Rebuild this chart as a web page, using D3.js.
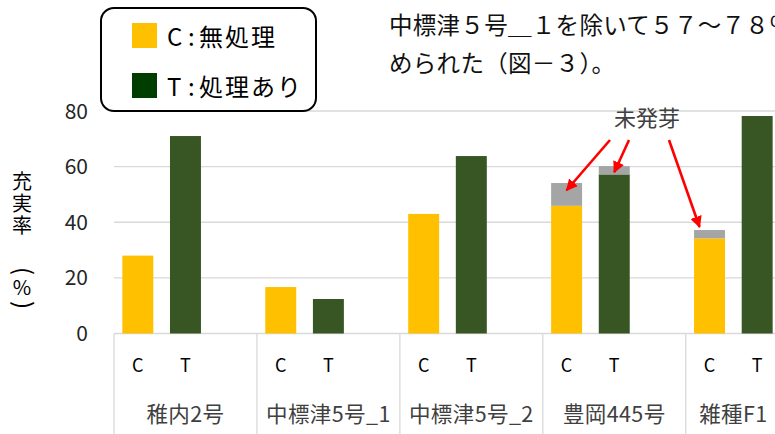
<!DOCTYPE html>
<html>
<head>
<meta charset="utf-8">
<script src="https://cdn.jsdelivr.net/npm/d3@7"></script>
<style>
	body { margin: 0; background: #fff; }
	svg { display: block; font-family: "Noto Sans CJK JP", "Noto Sans", sans-serif; }
</style>
</head>
<body>
<svg id="chart" width="775" height="434"></svg>
<script>

var categories = ["稚内2号", "中標津5号_1", "中標津5号_2", "豊岡445号", "雑種F1"];
var seriesNames = ["C", "T"];
var valuesC = [28, 16.7, 43, 45.9, 34.2];
var valuesT = [71, 12.4, 63.8, 57.2, 78.2];
var notSproutedC = [0, 0, 0, 8.2, 3];
var notSproutedT = [0, 0, 0, 3, 0];
var yTicks = [0, 20, 40, 60, 80];

var colorC = "#FFC000";
var colorT = "#375623";
var colorGray = "#A5A5A5";

var svg = d3.select("#chart");

// flat slot list: C, T and an empty spacer after every group but the last
var slotKeys = [];
categories.forEach(function(c, i) {
	slotKeys.push(c + "|C", c + "|T");
	if (i < categories.length - 1) slotKeys.push(c + "|-");
});

var x = d3.scaleBand()
	.domain(slotKeys)
	.range([114, 781])
	.paddingInner(0.35)
	.paddingOuter(0.175);

var step = x.step();
var groupStart = function(c) { return x(c + "|C") - step * 0.175; };
var groupWidth = function(i) { return step * (i < categories.length - 1 ? 3 : 2); };

var y = d3.scaleLinear()
	.domain([0, 80])
	.range([333.5, 111]);

// grid lines
svg.append("g")
	.attr("class", "grid")
	.selectAll("line")
	.data(yTicks)
	.enter()
	.append("line")
	.attr("x1", 114)
	.attr("x2", 775)
	.attr("y1", function(d) { return y(d); })
	.attr("y2", function(d) { return y(d); })
	.attr("stroke", "#d9d9d9")
	.attr("stroke-width", 1.3);

// category dividers below the axis
svg.append("g")
	.selectAll("line")
	.data(categories)
	.enter()
	.append("line")
	.attr("x1", function(d) { return groupStart(d); })
	.attr("x2", function(d) { return groupStart(d); })
	.attr("y1", y(0))
	.attr("y2", 434)
	.attr("stroke", "#d9d9d9")
	.attr("stroke-width", 1.3);

// y tick labels
svg.append("g")
	.selectAll("text")
	.data(yTicks)
	.enter()
	.append("text")
	.text(function(d) { return d; })
	.attr("x", 88)
	.attr("y", function(d) { return y(d); })
	.attr("dy", "0.36em")
	.attr("text-anchor", "end")
	.attr("font-size", 21)
	.attr("fill", "#262626");

// bars
var rows = categories.map(function(c, i) {
	return { cat: c, C: valuesC[i], T: valuesT[i], gC: notSproutedC[i], gT: notSproutedT[i] };
});

var bars = svg.append("g").attr("class", "bars");

rows.forEach(function(r) {
	[["C", r.C, r.gC, colorC], ["T", r.T, r.gT, colorT]].forEach(function(s) {
		var bx = x(r.cat + "|" + s[0]);
		bars.append("rect")
			.attr("x", bx)
			.attr("y", y(s[1]))
			.attr("width", x.bandwidth())
			.attr("height", y(0) - y(s[1]))
			.attr("fill", s[3]);
		if (s[2] > 0) {
			bars.append("rect")
				.attr("x", bx)
				.attr("y", y(s[1] + s[2]))
				.attr("width", x.bandwidth())
				.attr("height", y(s[1]) - y(s[1] + s[2]))
				.attr("fill", colorGray);
		}
	});
});

// C / T sub labels
rows.forEach(function(r) {
	seriesNames.forEach(function(s) {
		svg.append("text")
			.text(s)
			.attr("x", x(r.cat + "|" + s) + x.bandwidth() / 2)
			.attr("y", 366)
			.attr("dy", "0.36em")
			.attr("text-anchor", "middle")
			.attr("font-size", 18)
			.attr("fill", "#000");
	});
});

// category labels
svg.append("g")
	.selectAll("text")
	.data(categories)
	.enter()
	.append("text")
	.text(function(d) { return d; })
	.attr("x", function(d, i) { return groupStart(d) + groupWidth(i) / 2; })
	.attr("y", 414)
	.attr("dy", "0.36em")
	.attr("text-anchor", "middle")
	.attr("font-size", 21.5)
	.attr("letter-spacing", 0.4)
	.attr("fill", "#404040");

// y axis title, stacked vertically (parens turned sideways)
var titleChars = [["充", 182, 0], ["実", 204, 0], ["率", 226, 0], ["(", 271, 90], ["%", 288, 0], [")", 305, 90]];
svg.append("g")
	.selectAll("text")
	.data(titleChars)
	.enter()
	.append("text")
	.text(function(d) { return d[0]; })
	.attr("text-anchor", "middle")
	.attr("dy", function(d) { return d[2] ? "0.3em" : "0.36em"; })
	.attr("font-size", function(d) { return d[2] ? 24 : 20; })
	.attr("fill", "#000")
	.attr("transform", function(d) { return "translate(22," + d[1] + ") rotate(" + d[2] + ")"; });

// legend
var legend = svg.append("g").attr("class", "legend");
legend.append("rect")
	.attr("x", 101)
	.attr("y", 8)
	.attr("width", 215)
	.attr("height", 103)
	.attr("rx", 13)
	.attr("fill", "#fff")
	.attr("stroke", "#000")
	.attr("stroke-width", 2);

var legendItems = [["C", "無処理", "#FFC000"], ["T", "処理あり", "#003d00"]];
legend.selectAll("g.item")
	.data(legendItems)
	.enter()
	.append("g")
	.attr("class", "item")
	.each(function(d, i) {
		var g = d3.select(this);
		var ty = 46 + i * 50;
		g.append("rect")
			.attr("x", 132)
			.attr("y", 23 + i * 50)
			.attr("width", 25)
			.attr("height", 25)
			.attr("fill", d[2]);
		g.append("text").text(d[0]).attr("x", 167).attr("y", ty)
			.attr("font-size", 24).attr("fill", "#000");
		g.append("text").text(":").attr("x", 188).attr("y", ty)
			.attr("font-size", 24).attr("fill", "#000");
		g.append("text").text(d[1]).attr("x", 199).attr("y", ty)
			.attr("font-size", 24).attr("letter-spacing", 2).attr("fill", "#000");
	});

// body text at top right
var bodyLines = ["中標津５号＿１を除いて５７～７８％が認", "められた（図－３）。"];
svg.append("g")
	.selectAll("text")
	.data(bodyLines)
	.enter()
	.append("text")
	.text(function(d) { return d; })
	.attr("x", 389)
	.attr("y", function(d, i) { return 34 + i * 38; })
	.attr("font-size", 23.5)
	.attr("letter-spacing", 0.3)
	.attr("fill", "#111");

// annotation: 未発芽 with arrows
var labelX = 647, labelY = 118;
svg.append("text")
	.text("未発芽")
	.attr("x", labelX)
	.attr("y", labelY)
	.attr("dy", "0.36em")
	.attr("text-anchor", "middle")
	.attr("font-size", 22)
	.attr("fill", "#404040");

svg.append("defs").append("marker")
	.attr("id", "arrow")
	.attr("viewBox", "0 0 10 10")
	.attr("refX", 9)
	.attr("refY", 5)
	.attr("markerWidth", 4.5)
	.attr("markerHeight", 4.5)
	.attr("orient", "auto")
	.append("path")
	.attr("d", "M0,0 L10,5 L0,10 Z")
	.attr("fill", "#ff0000");

var arrows = [
	{ cat: "豊岡445号", s: "C", v: 51.5, dx: 0, sx: -37 },
	{ cat: "豊岡445号", s: "T", v: 58, dx: 0, sx: -18 },
	{ cat: "雑種F1", s: "C", v: 38.3, dx: -10, sx: 22 }
];

svg.append("g")
	.selectAll("line")
	.data(arrows)
	.enter()
	.append("line")
	.attr("x1", function(d) { return labelX + d.sx; })
	.attr("y1", labelY + 22)
	.attr("x2", function(d) { return x(d.cat + "|" + d.s) + x.bandwidth() / 2 + d.dx; })
	.attr("y2", function(d) { return y(d.v); })
	.attr("stroke", "#ff0000")
	.attr("stroke-width", 2.6)
	.attr("marker-end", "url(#arrow)");

</script>
</body>
</html>
